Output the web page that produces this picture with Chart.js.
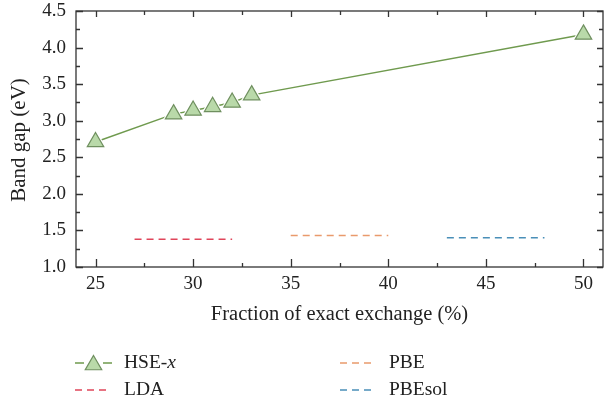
<!DOCTYPE html>
<html>
<head>
<meta charset="utf-8">
<script src="https://cdn.jsdelivr.net/npm/chart.js@4.4.1/dist/chart.umd.min.js"></script>
<style>
  html, body { margin: 0; padding: 0; background: #fff; }
  #wrap { width: 605px; height: 404px; }
</style>
</head>
<body>
<div id="wrap"><canvas id="myChart" width="605" height="404"></canvas></div>
<script>
// data
var hseX = [25, 29, 30, 31, 32, 33, 50];
var hseGap = [2.71, 3.09, 3.14, 3.19, 3.25, 3.35, 4.18];
var ldaX = [27, 32];
var ldaGap = [1.38, 1.38];
var pbeX = [35, 40];
var pbeGap = [1.43, 1.43];
var pbesolX = [43, 48];
var pbesolGap = [1.40, 1.40];
var xTicks = [25, 30, 35, 40, 45, 50];
var yTicks = [1.0, 1.5, 2.0, 2.5, 3.0, 3.5, 4.0, 4.5];

var FONT = "'Liberation Serif', 'DejaVu Serif', serif";
var green = "#6f9a4e";
var triFill = "#b9d9a9";
var triEdge = "#6f8f5f";
var ldaColor = "#e0455a";
var pbeColor = "#e99a6c";
var pbesolColor = "#4a8fb8";

function pts(xs, ys) {
    return xs.map(function (x, i) { return {x: x, y: ys[i]}; });
}

// frame, inward ticks, axis titles and legend
var decor = {
    id: "decor",
    afterDraw: function (chart) {
        var ctx = chart.ctx;
        var a = chart.chartArea;
        var xs = chart.scales.x, ys = chart.scales.y;
        ctx.save();
        ctx.strokeStyle = "#333";
        ctx.lineWidth = 1.3;
        ctx.strokeRect(a.left, a.top, a.right - a.left, a.bottom - a.top);

        ctx.beginPath();
        xTicks.forEach(function (v, i) {
            var p = Math.round(xs.getPixelForValue(v)) + 0.5;
            ctx.moveTo(p, a.bottom); ctx.lineTo(p, a.bottom - 8);
            ctx.moveTo(p, a.top); ctx.lineTo(p, a.top + 6);
            if (i < xTicks.length - 1) {
                var m = Math.round(xs.getPixelForValue((v + xTicks[i + 1]) / 2)) + 0.5;
                ctx.moveTo(m, a.bottom); ctx.lineTo(m, a.bottom - 4);
                ctx.moveTo(m, a.top); ctx.lineTo(m, a.top + 4);
            }
        });
        yTicks.forEach(function (v, i) {
            var p = Math.round(ys.getPixelForValue(v)) + 0.5;
            ctx.moveTo(a.left, p); ctx.lineTo(a.left + 7, p);
            ctx.moveTo(a.right, p); ctx.lineTo(a.right - 6, p);
            if (i < yTicks.length - 1) {
                var m = Math.round(ys.getPixelForValue((v + yTicks[i + 1]) / 2)) + 0.5;
                ctx.moveTo(a.left, m); ctx.lineTo(a.left + 4, m);
                ctx.moveTo(a.right, m); ctx.lineTo(a.right - 4, m);
            }
        });
        ctx.stroke();

        // axis titles
        ctx.fillStyle = "#222";
        ctx.font = "20.5px " + FONT;
        ctx.textAlign = "center";
        ctx.textBaseline = "middle";
        ctx.fillText("Fraction of exact exchange (%)", (a.left + a.right) / 2, 315);
        ctx.save();
        ctx.font = "21px " + FONT;
        ctx.translate(19, (a.top + a.bottom) / 2 + 1);
        ctx.rotate(-Math.PI / 2);
        ctx.fillText("Band gap (eV)", 0, 0);
        ctx.restore();

        // legend
        var rows = [
            {x: 75, y: 363, label: "HSE-", ital: "x", color: green, tri: true},
            {x: 340, y: 363, label: "PBE", color: pbeColor},
            {x: 75, y: 390, label: "LDA", color: ldaColor},
            {x: 340, y: 390, label: "PBEsol", color: pbesolColor}
        ];
        rows.forEach(function (r) {
            ctx.lineWidth = 1.5;
            ctx.strokeStyle = r.color;
            ctx.beginPath();
            if (r.tri) {
                ctx.setLineDash([]);
                ctx.moveTo(r.x, r.y); ctx.lineTo(r.x + 9, r.y);
                ctx.moveTo(r.x + 28, r.y); ctx.lineTo(r.x + 37, r.y);
                ctx.stroke();
                var cx = r.x + 18.5, rad = 9.5;
                ctx.beginPath();
                ctx.moveTo(cx, r.y + 2 - rad);
                ctx.lineTo(cx + rad * 0.866, r.y + 2 + rad / 2);
                ctx.lineTo(cx - rad * 0.866, r.y + 2 + rad / 2);
                ctx.closePath();
                ctx.fillStyle = triFill;
                ctx.fill();
                ctx.strokeStyle = triEdge;
                ctx.lineWidth = 1.2;
                ctx.stroke();
            } else {
                ctx.setLineDash([7, 5]);
                ctx.moveTo(r.x, r.y); ctx.lineTo(r.x + 36, r.y);
                ctx.stroke();
                ctx.setLineDash([]);
            }
            ctx.fillStyle = "#222";
            ctx.textAlign = "left";
            ctx.font = "19.5px " + FONT;
            var tx = r.x + 49;
            ctx.fillText(r.label, tx, r.y);
            if (r.ital) {
                var w = ctx.measureText(r.label).width;
                ctx.font = "italic 19.5px " + FONT;
                ctx.fillText(r.ital, tx + w, r.y);
            }
        });
        ctx.restore();
    }
};

new Chart("myChart", {
    type: "scatter",
    data: {
        datasets: [
            {
                label: "HSE-x",
                data: pts(hseX, hseGap),
                showLine: false,
                pointStyle: "triangle",
                pointRadius: 9.5,
                pointHoverRadius: 9.5,
                backgroundColor: triFill,
                borderColor: triEdge,
                borderWidth: 1.2,
                order: 0
            },
            {
                label: "halo",
                data: pts(hseX, hseGap),
                showLine: false,
                pointStyle: "triangle",
                pointRadius: 13,
                backgroundColor: "#fff",
                borderWidth: 0,
                order: 1
            },
            {
                label: "HSE-x line",
                data: pts(hseX, hseGap),
                showLine: true,
                pointRadius: 0,
                borderColor: green,
                borderWidth: 1.5,
                order: 2
            },
            {
                label: "LDA",
                data: pts(ldaX, ldaGap),
                showLine: true,
                pointRadius: 0,
                borderColor: ldaColor,
                borderWidth: 1.5,
                borderDash: [7, 5],
                order: 3
            },
            {
                label: "PBE",
                data: pts(pbeX, pbeGap),
                showLine: true,
                pointRadius: 0,
                borderColor: pbeColor,
                borderWidth: 1.5,
                borderDash: [7, 5],
                order: 3
            },
            {
                label: "PBEsol",
                data: pts(pbesolX, pbesolGap),
                showLine: true,
                pointRadius: 0,
                borderColor: pbesolColor,
                borderWidth: 1.5,
                borderDash: [7, 5],
                order: 3
            }
        ]
    },
    options: {
        responsive: false,
        animation: false,
        events: [],
        layout: {autoPadding: false, padding: {top: 11, right: 2, left: 0, bottom: 0}},
        plugins: {
            legend: {display: false},
            tooltip: {enabled: false}
        },
        scales: {
            x: {
                type: "linear",
                min: 24,
                max: 51,
                afterBuildTicks: function (s) { s.ticks = xTicks.map(function (v) { return {value: v}; }); },
                afterFit: function (s) {
                    s.height = 137;
                    s.paddingLeft = 0;
                    s.paddingRight = 0;
                },
                grid: {display: false, drawTicks: false},
                border: {display: false},
                ticks: {
                    padding: 6,
                    color: "#222",
                    font: {family: FONT, size: 19}
                }
            },
            y: {
                type: "linear",
                min: 1.0,
                max: 4.5,
                afterBuildTicks: function (s) { s.ticks = yTicks.map(function (v) { return {value: v}; }); },
                afterFit: function (s) {
                    s.width = 76;
                    s.paddingTop = 0;
                    s.paddingBottom = 0;
                },
                grid: {display: false, drawTicks: false},
                border: {display: false},
                ticks: {
                    padding: 10,
                    color: "#222",
                    font: {family: FONT, size: 19},
                    callback: function (v) { return Number(v).toFixed(1); }
                }
            }
        }
    },
    plugins: [decor]
});
</script>
</body>
</html>
